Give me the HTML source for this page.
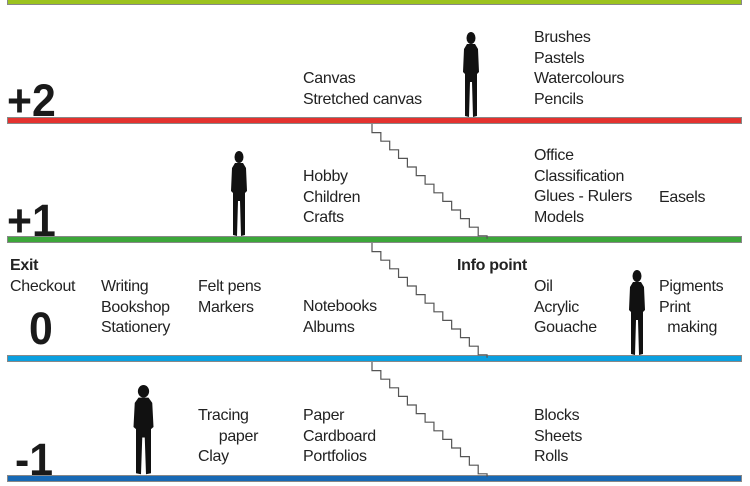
<!DOCTYPE html>
<html><head><meta charset="utf-8"><style>
body{margin:0;width:750px;height:486px;position:relative;background:#fff;overflow:hidden;font-family:"Liberation Sans",sans-serif;color:#222}
.t{position:absolute;line-height:20.7px;white-space:pre;letter-spacing:-0.3px;font-family:"Liberation Sans",sans-serif;font-size:16px;margin-top:2px}
.b{font-weight:bold}
.n{position:absolute;font-family:"Liberation Sans",sans-serif;font-weight:bold;font-size:45px;line-height:45px;color:#1a1a1a;transform:scaleX(0.95);transform-origin:left}
.bar{position:absolute;left:7px;width:735px;height:7px;box-shadow:0 0 0 1px #888 inset}
</style></head><body>
<div class="bar" style="top:-1px;height:6px;background:#9cc31f"></div>
<div class="bar" style="top:117px;background:#e4322f"></div>
<div class="bar" style="top:236px;background:#3ca73a"></div>
<div class="bar" style="top:355px;background:#0aa0e0"></div>
<div class="bar" style="top:475px;background:#1769b5"></div>

<svg width="750" height="486" style="position:absolute;left:0;top:0">
<g fill="none" stroke="#555" stroke-width="1.2">
<path id="st" d="M372,124 v8.6 h8.85 v8.6 h8.85 v8.6 h8.85 v8.6 h8.85 v8.6 h8.85 v8.6 h8.85 v8.6 h8.85 v8.6 h8.85 v8.6 h8.85 v8.6 h8.85 v8.6 h8.85 v8.6 h8.85 v8.6 h8.85 v3"/>
<use href="#st" y="119"/>
<use href="#st" y="238"/>
</g>
<defs><g id="p"><ellipse cx="10" cy="6" rx="4.5" ry="6"/><path d="M6,12 L14,12 L17,17 L18,40 L16,42 L16,84 L12,85 L11,50 L9,50 L8,85 L4,84 L4,42 L2,40 L3,17 Z"/></g></defs>
<g fill="#111">
<use href="#p" transform="translate(461,32)"/>
<use href="#p" transform="translate(229,151)"/>
<use href="#p" transform="translate(627,270)"/>
<use href="#p" transform="translate(131,385) scale(1.25,1.05)"/>
</g>
</svg>

<div class="n" style="left:7px;top:78px">+2</div>
<div class="n" style="left:7px;top:198px">+1</div>
<div class="n" style="left:29px;top:306px">0</div>
<div class="n" style="left:15px;top:437px">-1</div>

<div class="t" style="left:534px;top:26px">Brushes
Pastels
Watercolours
Pencils</div>
<div class="t" style="left:303px;top:67px">Canvas
Stretched canvas</div>

<div class="t" style="left:534px;top:144px">Office
Classification
Glues - Rulers
Models</div>
<div class="t" style="left:659px;top:186px">Easels</div>
<div class="t" style="left:303px;top:165px">Hobby
Children
Crafts</div>

<div class="t b" style="left:10px;top:254px">Exit</div>
<div class="t" style="left:10px;top:275px">Checkout</div>
<div class="t" style="left:101px;top:275px">Writing
Bookshop
Stationery</div>
<div class="t" style="left:198px;top:275px">Felt pens
Markers</div>
<div class="t" style="left:303px;top:295px">Notebooks
Albums</div>
<div class="t b" style="left:457px;top:254px">Info point</div>
<div class="t" style="left:534px;top:275px">Oil
Acrylic
Gouache</div>
<div class="t" style="left:659px;top:275px">Pigments
Print
  making</div>

<div class="t" style="left:198px;top:404px">Tracing
     paper
Clay</div>
<div class="t" style="left:303px;top:404px">Paper
Cardboard
Portfolios</div>
<div class="t" style="left:534px;top:404px">Blocks
Sheets
Rolls</div>
</body></html>
